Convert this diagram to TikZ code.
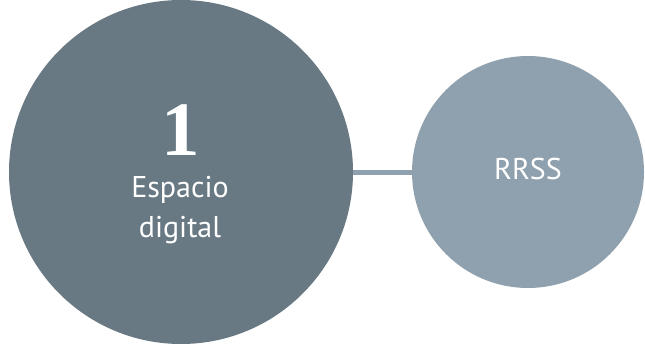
\documentclass[tikz,border=0pt]{standalone}
\usepackage{fontspec}
\setmainfont{PT Sans}
\newfontfamily\numfont{Liberation Serif}
\usepackage{tikz}
\usetikzlibrary{positioning}
\definecolor{pizarra}{HTML}{687983}
\definecolor{pizarraclara}{HTML}{8FA1AE}

\begin{document}
\begin{tikzpicture}[
    x=1pt, y=1pt,
    circulo/.style={
        circle, fill=#1, draw=none, inner sep=0pt
    },
    texto/.style={
        text=white, font=\fontsize{30}{40}\selectfont, inner sep=0pt
    },
    enlace/.style={draw=pizarraclara, line width=5pt}
]
\useasboundingbox (0,0) rectangle (645,346);

% Círculos
\node[circulo=pizarra, minimum size=344pt] (espacio) at (181,174) {};
\node[circulo=pizarraclara, minimum size=232pt] (rrss) at (528,174) {};

% Línea entre los círculos
\draw[enlace] (espacio.east) -- (rrss.west);

% Textos
\node[texto, anchor=base, font=\numfont\bfseries\fontsize{77}{77}\selectfont] (num) at (181,190) {1};
\node[texto, anchor=base] (esp) at (180,149) {Espacio};
\node[texto, anchor=base] (dig) at (180,109) {digital};
\node[texto, anchor=base] (red) at (528,167) {RRSS};

\end{tikzpicture}
\end{document}
